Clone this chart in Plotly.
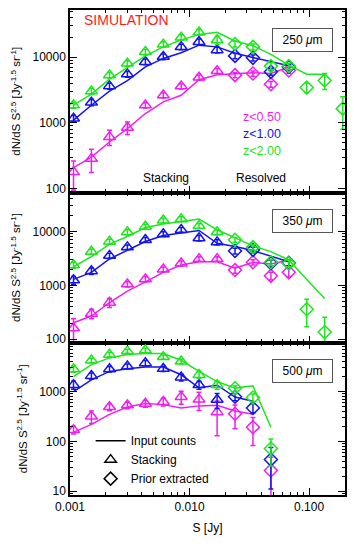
import math
import plotly.graph_objects as go

# ── data ─────────────────────────────────────────────────────────────────────
# flux bins (Jy): first 9 = stacking, rest = resolved
S = [0.00107, 0.00151, 0.00214, 0.00302, 0.00427, 0.00603, 0.00851, 0.0120,
     0.0170, 0.0240, 0.0339, 0.0479, 0.0676, 0.0955, 0.135, 0.191]
N_STACK = 9
S_CUT = 0.02

# 250 um
PTS_250_Z05 = [179, 286, 611, 849, 1860, 2640, 3630, 4930, 6200, 5340, 5660, 3890, 6300]
ERR_250_Z05 = [85, 110, 160, 180, 170, 240, 330, 450, 560, 480, 510, 400, 600]
PTS_250_Z10 = [1170, 2050, 3630, 5530, 8530, 10200, 14400, 17200, 12900, 10500, 9800, 6000, 7100]
ERR_250_Z10 = [130, 220, 380, 560, 850, 1000, 1400, 1700, 1300, 1000, 1000, 700, 700]
PTS_250_Z20 = [1860, 3040, 5340, 8050, 12100, 15700, 20100, 24000, 18300, 15900, 14400, 7330, 7330, 3470, 4440, 1650]
ERR_250_Z20 = [180, 300, 520, 800, 1200, 1500, 2000, 2400, 2600, 1600, 1500, 900, 800, 600, 1200, 850]
LINE_250_Z05 = [208, 302, 512, 820, 1390, 2090, 2640, 4550, 5400, 5660, 5800, 5660, 7140]
LINE_250_Z10 = [1100, 1860, 3040, 4400, 7140, 9600, 11700, 15300, 14400, 11500, 9900, 8600, 7400]
LINE_250_Z20 = [1860, 2740, 4640, 7070, 10500, 14400, 18300, 22300, 24000, 17700, 15000, 11100, 7600, 5530, 5530]

# 350 um
PTS_350_Z05 = [161, 299, 480, 1050, 1300, 1980, 2560, 3080, 3080, 1920, 2670, 1500, 1740]
ERR_350_Z05 = [80, 60, 90, 120, 150, 200, 250, 300, 300, 250, 300, 250, 310]
PTS_350_Z10 = [1250, 1840, 3550, 5100, 6970, 8900, 10700, 7500, 6310, 4340, 4540, 2560, 2600]
ERR_350_Z10 = [200, 250, 400, 500, 700, 900, 1100, 900, 700, 550, 550, 400, 300]
PTS_350_Z20 = [2380, 4220, 6480, 9700, 12300, 16000, 16900, 12700, 9700, 6970, 5100, 2670, 2560, 360, 136]
ERR_350_Z20 = [300, 450, 700, 1000, 1200, 1600, 1700, 1300, 1000, 700, 600, 350, 350, 190, 120]
LINE_350_Z05 = [203, 270, 480, 780, 1160, 1740, 2380, 2740, 2740, 2070, 2670, 2480, 2950]
LINE_350_Z10 = [1290, 1740, 3080, 4400, 6480, 8380, 9300, 10400, 6000, 5230, 4400, 3510, 2740]
LINE_350_Z20 = [2210, 3400, 5800, 8030, 11800, 13700, 15300, 16900, 10700, 7500, 5380, 4220, 2950, 1280, 569]

# 500 um
PTS_500_Z05 = [170, 319, 493, 535, 577, 625, 790, 697, 390, 360, 193, 26]
ERR_500_Z05 = [30, 90, 80, 80, 90, 110, 230, 280, 260, 180, 110, 22]
PTS_500_Z10 = [1370, 2090, 2850, 3240, 3780, 2900, 1950, 1370, 690, 790, 471, 43]
ERR_500_Z10 = [250, 300, 350, 350, 450, 350, 300, 250, 230, 130, 100, 32]
PTS_500_Z20 = [2850, 4290, 5600, 6550, 6860, 5010, 4090, 2190, 1370, 1170, 764, 72]
ERR_500_Z20 = [400, 450, 550, 600, 700, 500, 450, 350, 250, 150, 130, 40]
LINE_500_Z05 = [152, 219, 350, 493, 577, 549, 471, 518, 535, 409, 350]
LINE_500_Z10 = [1000, 1730, 2560, 2900, 3130, 3130, 2190, 1200, 1350, 780, 640]
LINE_500_Z20 = [2020, 3500, 4790, 5600, 5870, 5870, 4290, 2560, 1600, 1180, 1310, 193]

BANDS = ["250", "350", "500"]
Z_LABELS = ["z<0.50", "z<1.00", "z<2.00"]
COLORS = ["#f01ef0", "#1414f0", "#1ee61e"]

PANELS = [
    [(PTS_250_Z05, ERR_250_Z05, LINE_250_Z05), (PTS_250_Z10, ERR_250_Z10, LINE_250_Z10), (PTS_250_Z20, ERR_250_Z20, LINE_250_Z20)],
    [(PTS_350_Z05, ERR_350_Z05, LINE_350_Z05), (PTS_350_Z10, ERR_350_Z10, LINE_350_Z10), (PTS_350_Z20, ERR_350_Z20, LINE_350_Z20)],
    [(PTS_500_Z05, ERR_500_Z05, LINE_500_Z05), (PTS_500_Z10, ERR_500_Z10, LINE_500_Z10), (PTS_500_Z20, ERR_500_Z20, LINE_500_Z20)],
]
Y_RANGES = [[1.94, 4.72], [1.94, 4.72], [0.92, 3.99]]
Y_DOMAINS = [[0.6237, 1.0], [0.3144, 0.6237], [0.0, 0.3144]]

FONT = "Liberation Sans, Arial, Helvetica, sans-serif"

fig = go.Figure()

for p, series in enumerate(PANELS):
    xa = "x" if p == 0 else f"x{p+1}"
    ya = "y" if p == 0 else f"y{p+1}"
    for (pts, err, line), col in zip(series, COLORS):
        fig.add_trace(go.Scatter(
            x=S[:len(line)], y=line, mode="lines",
            line=dict(color=col, width=1.5),
            xaxis=xa, yaxis=ya, showlegend=False, hoverinfo="skip",
        ))
        errbar = dict(type="data", thickness=1.5, width=2.5, color=col)
        fig.add_trace(go.Scatter(
            x=S[:N_STACK], y=pts[:N_STACK], mode="markers",
            marker=dict(symbol="triangle-up-open", size=10.5, color=col, line=dict(width=1.5, color=col)),
            error_y=dict(array=err[:N_STACK], **errbar),
            xaxis=xa, yaxis=ya, showlegend=False,
        ))
        if len(pts) > N_STACK:
            fig.add_trace(go.Scatter(
                x=S[N_STACK:len(pts)], y=pts[N_STACK:], mode="markers",
                marker=dict(symbol="diamond-open", size=10, color=col, line=dict(width=1.5, color=col)),
                error_y=dict(array=err[N_STACK:], **errbar),
                xaxis=xa, yaxis=ya, showlegend=False,
            ))

    # stacking / resolved boundary
    fig.add_shape(type="line", xref=xa, yref=f"{ya} domain",
                  x0=math.log10(S_CUT), x1=math.log10(S_CUT), y0=0, y1=1,
                  line=dict(color="#333", width=1, dash="dot"))
    # band label box
    fig.add_annotation(text=f"{BANDS[p]} <i>μ</i>m", xref=f"{xa} domain", yref=f"{ya} domain",
                       x=0.8466, y=0.838 if p == 0 else 0.813, xanchor="center", yanchor="middle",
                       showarrow=False, font=dict(size=12, color="black"), width=57, height=20,
                       bordercolor="#555", borderwidth=1, borderpad=1)

# legend entries
fig.add_trace(go.Scatter(x=[None], y=[None], mode="lines", name="Input counts",
                         line=dict(color="black", width=1.5), xaxis="x3", yaxis="y3"))
fig.add_trace(go.Scatter(x=[None], y=[None], mode="markers", name="Stacking",
                         marker=dict(symbol="triangle-up-open", size=10, color="black", line=dict(width=1.5)),
                         xaxis="x3", yaxis="y3"))
fig.add_trace(go.Scatter(x=[None], y=[None], mode="markers", name="Prior extracted",
                         marker=dict(symbol="diamond-open", size=10, color="black", line=dict(width=1.5)),
                         xaxis="x3", yaxis="y3"))

# text in top panel
fig.add_annotation(text="SIMULATION", xref="x domain", yref="y domain", x=0.043, y=0.945,
                   xanchor="left", yanchor="middle", showarrow=False,
                   font=dict(size=14, color="#ff1a1a"))
for i, (lab, col) in enumerate(zip(Z_LABELS, COLORS)):
    fig.add_annotation(text=lab, xref="x domain", yref="y domain", x=0.625, y=0.414 - i * 0.092,
                       xanchor="left", yanchor="middle", showarrow=False, borderpad=0,
                       font=dict(size=12.5, color=col))
fig.add_annotation(text="Stacking", xref="x domain", yref="y domain", x=0.35, y=0.079,
                   xanchor="center", yanchor="middle", showarrow=False,
                   font=dict(size=12, color="black"))
fig.add_annotation(text="Resolved", xref="x domain", yref="y domain", x=0.693, y=0.079,
                   xanchor="center", yanchor="middle", showarrow=False,
                   font=dict(size=12, color="black"))

axis_common = dict(
    type="log", showline=True, linecolor="black", linewidth=1.5, mirror="allticks",
    ticks="inside", ticklen=7, tickwidth=1, tickcolor="black", dtick=1, tick0=0,
    showgrid=False, zeroline=False, tickfont=dict(size=12, color="black"),
    minor=dict(ticks="inside", ticklen=3.5, tickwidth=1, tickcolor="black", dtick="D1", showgrid=False),
)
ytitle = "dN/dS S<sup>2.5</sup> [Jy<sup>-1.5</sup> sr<sup>-1</sup>]"

layout_axes = {}
for p in range(3):
    sx = "" if p == 0 else str(p + 1)
    layout_axes[f"xaxis{sx}"] = dict(axis_common, range=[-3, -0.7], anchor=f"y{sx}",
                                     domain=[0, 1], tickformat=".3f", showticklabels=(p == 2),
                                     title=dict(text="S [Jy]" if p == 2 else "", font=dict(size=12), standoff=10))
    layout_axes[f"yaxis{sx}"] = dict(axis_common, range=Y_RANGES[p], anchor=f"x{sx}",
                                     domain=Y_DOMAINS[p], tickformat="d",
                                     title=dict(text=ytitle, font=dict(size=11.5), standoff=9))

fig.update_layout(
    width=354, height=550,
    margin=dict(l=70, r=7, t=10, b=55),
    paper_bgcolor="white", plot_bgcolor="white",
    font=dict(family=FONT, color="black", size=12),
    legend=dict(x=0.075, y=0.142, xanchor="left", yanchor="top", bgcolor="rgba(0,0,0,0)",
                font=dict(size=12), borderwidth=0),
    showlegend=True,
    **layout_axes,
)

# drop the browser's default body margin so the figure sits at the page origin
fig.write_html("out.html", config={"displayModeBar": False},
               post_script="document.body.style.margin='0px';")
